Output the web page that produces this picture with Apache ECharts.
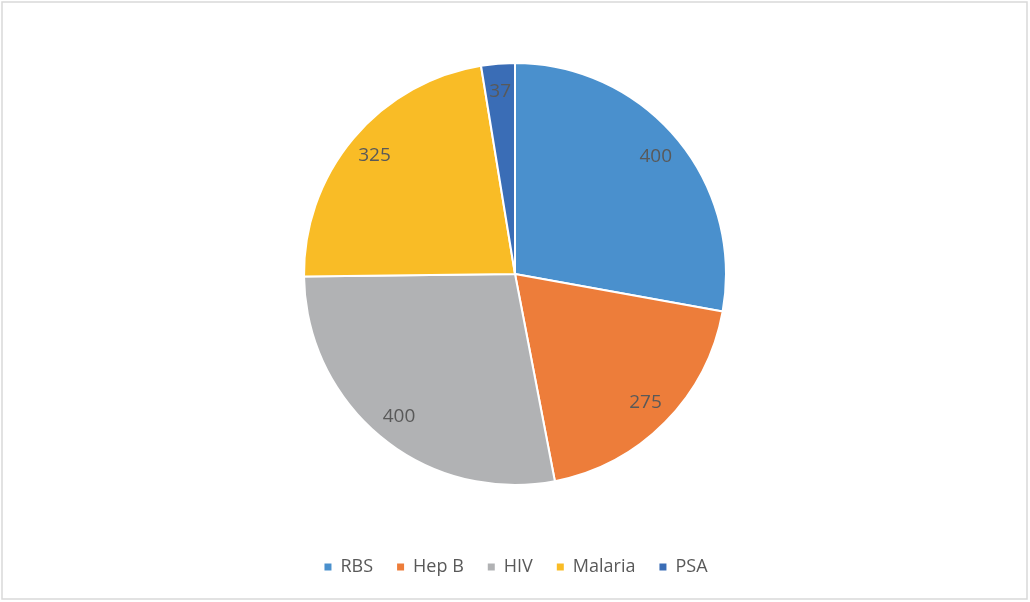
<!DOCTYPE html>
<html>
<head>
<meta charset="utf-8">
<script src="https://cdn.jsdelivr.net/npm/echarts@6/dist/echarts.min.js"></script>
<style>
  html, body { margin: 0; padding: 0; background: #fff; }
  #chart { width: 1030px; height: 602px; }
</style>
</head>
<body>
<div id="chart"></div>
<script>
// 数据
var categories = ['RBS', 'Hep B', 'HIV', 'Malaria', 'PSA'];
var values = [400, 275, 400, 325, 37];
var colors = ['#4A90CD', '#ED7D3A', '#B1B2B4', '#F9BC26', '#3A6DB6'];

var pieData = [];
var labelData = [];
for (var i = 0; i < categories.length; i++) {
    pieData.push({ name: categories[i], value: values[i], itemStyle: { color: colors[i] } });
    labelData.push({ name: categories[i], value: values[i] });
}

var myChart = echarts.init(document.getElementById('chart'));
var option = {
    animation: false,
    color: colors,
    graphic: [{
        type: 'rect',
        shape: { x: 2, y: 2, width: 1025, height: 597 },
        style: { fill: 'none', stroke: '#D9D9D9', lineWidth: 1.5 },
        silent: true
    }],
    legend: {
        data: categories,
        bottom: 21,
        left: 'center',
        icon: 'rect',
        itemWidth: 9,
        itemHeight: 9,
        itemGap: 22,
        textStyle: { color: '#595959', fontSize: 18, fontFamily: 'Open Sans', padding: [0, 0, 0, 3] }
    },
    series: [
        {
            //扇形
            type: 'pie',
            center: [515, 274],
            radius: 211,
            startAngle: 90,
            clockwise: true,
            label: { show: false },
            labelLine: { show: false },
            itemStyle: { borderColor: '#fff', borderWidth: 2 },
            data: pieData
        },
        {
            //数据标签
            type: 'pie',
            center: [515, 274],
            radius: [150, 211],
            startAngle: 90,
            clockwise: true,
            silent: true,
            itemStyle: { color: 'rgba(0,0,0,0)' },
            label: {
                show: true,
                position: 'inside',
                formatter: '{c}',
                color: '#595959',
                fontSize: 19,
                fontFamily: 'Open Sans'
            },
            labelLine: { show: false },
            data: labelData
        }
    ]
};
myChart.setOption(option);
</script>
</body>
</html>
